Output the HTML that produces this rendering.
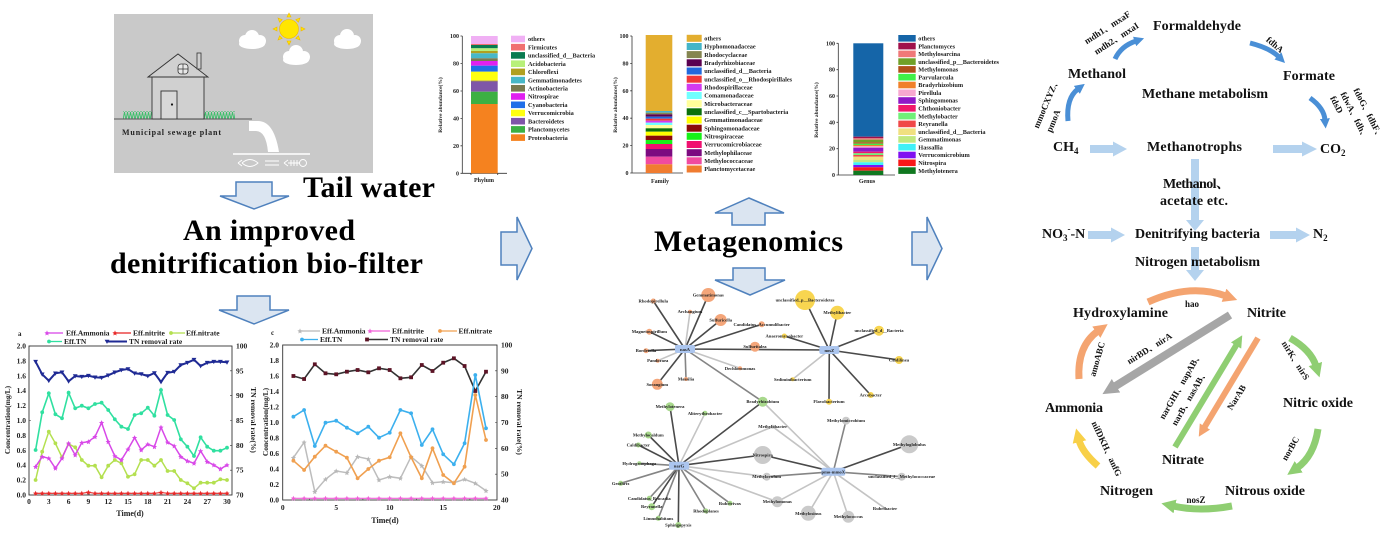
<!DOCTYPE html>
<html><head><meta charset="utf-8"><style>
html,body{margin:0;padding:0;background:#fff;}
svg{display:block;font-family:"Liberation Serif","Noto Serif CJK SC",serif;font-weight:bold;}
</style></head><body>
<svg width="1388" height="551" viewBox="0 0 1388 551" xmlns="http://www.w3.org/2000/svg">
<defs>
<pattern id="grass" width="3" height="8" patternUnits="userSpaceOnUse"><path d="M0,8 L1.5,0 L3,8" stroke="#3cbf6a" fill="none" stroke-width="0.9"/></pattern>
<marker id="mA" viewBox="-3 -3 6 6" markerWidth="6" markerHeight="6" markerUnits="userSpaceOnUse"><path d="M0,-2.6 L0.8,-0.8 L2.6,-0.6 L1.2,0.7 L1.6,2.5 L0,1.5 L-1.6,2.5 L-1.2,0.7 L-2.6,-0.6 L-0.8,-0.8Z" fill="#d848e8"/></marker>
<marker id="mN" viewBox="-3 -3 6 6" markerWidth="6" markerHeight="6" markerUnits="userSpaceOnUse"><path d="M0,-2.6 L0.8,-0.8 L2.6,-0.6 L1.2,0.7 L1.6,2.5 L0,1.5 L-1.6,2.5 L-1.2,0.7 L-2.6,-0.6 L-0.8,-0.8Z" fill="#e82828"/></marker>
<marker id="mR" viewBox="-3 -3 6 6" markerWidth="6" markerHeight="6" markerUnits="userSpaceOnUse"><circle r="1.9" fill="#b4e050"/></marker>
<marker id="mT" viewBox="-3 -3 6 6" markerWidth="6" markerHeight="6" markerUnits="userSpaceOnUse"><circle r="1.9" fill="#30e0a0"/></marker>
<marker id="mV" viewBox="-3 -3 6 6" markerWidth="6" markerHeight="6" markerUnits="userSpaceOnUse"><path d="M-2.4,-1.8 L2.4,-1.8 L0,2.4Z" fill="#1f2a94"/></marker>
<marker id="cA" viewBox="-3 -3 6 6" markerWidth="6" markerHeight="6" markerUnits="userSpaceOnUse"><path d="M0,-2.6 L0.8,-0.8 L2.6,-0.6 L1.2,0.7 L1.6,2.5 L0,1.5 L-1.6,2.5 L-1.2,0.7 L-2.6,-0.6 L-0.8,-0.8Z" fill="#b8b8b8"/></marker>
<marker id="cN" viewBox="-3 -3 6 6" markerWidth="6" markerHeight="6" markerUnits="userSpaceOnUse"><path d="M0,-2.6 L0.8,-0.8 L2.6,-0.6 L1.2,0.7 L1.6,2.5 L0,1.5 L-1.6,2.5 L-1.2,0.7 L-2.6,-0.6 L-0.8,-0.8Z" fill="#f060d8"/></marker>
<marker id="cR" viewBox="-3 -3 6 6" markerWidth="6" markerHeight="6" markerUnits="userSpaceOnUse"><circle r="1.9" fill="#f0a050"/></marker>
<marker id="cT" viewBox="-3 -3 6 6" markerWidth="6" markerHeight="6" markerUnits="userSpaceOnUse"><circle r="1.9" fill="#3cb0ee"/></marker>
<marker id="cV" viewBox="-3 -3 6 6" markerWidth="6" markerHeight="6" markerUnits="userSpaceOnUse"><rect x="-1.9" y="-1.9" width="3.8" height="3.8" fill="#5c1426"/></marker>
<marker id="ahB" viewBox="0 0 2 2" refX="0.3" refY="1" markerWidth="2" markerHeight="2" orient="auto" markerUnits="strokeWidth"><path d="M0,0 L2,1 L0,2Z" fill="#4a8fd6"/></marker>
<marker id="ahO" viewBox="0 0 2 2" refX="0.3" refY="1" markerWidth="2" markerHeight="2" orient="auto" markerUnits="strokeWidth"><path d="M0,0 L2,1 L0,2Z" fill="#f4a470"/></marker>
<marker id="ahG" viewBox="0 0 2 2" refX="0.3" refY="1" markerWidth="2" markerHeight="2" orient="auto" markerUnits="strokeWidth"><path d="M0,0 L2,1 L0,2Z" fill="#8fce72"/></marker>
<marker id="ahY" viewBox="0 0 2 2" refX="0.3" refY="1" markerWidth="2" markerHeight="2" orient="auto" markerUnits="strokeWidth"><path d="M0,0 L2,1 L0,2Z" fill="#f8d048"/></marker>
<marker id="ahS" viewBox="0 0 2 2" refX="0.3" refY="1" markerWidth="2" markerHeight="2" orient="auto" markerUnits="strokeWidth"><path d="M0,0 L2,1 L0,2Z" fill="#a6a6a6"/></marker>
</defs>

<!-- ===== House scene ===== -->
<rect x="114" y="14" width="259" height="159" fill="#c9c9c9"/>
<g fill="#ffe600" stroke="#f0b800" stroke-width="0.6">
<circle cx="289" cy="29" r="9.5"/>
<path d="M289,13 l2,4 h-4z M289,45 l2,-4 h-4z M273,29 l4,2 v-4z M305,29 l-4,2 v-4z M278,18 l4.2,1.6 -2.6,2.6z M300,40 l-4.2,-1.6 2.6,-2.6z M300,18 l-1.6,4.2 -2.6,-2.6z M278,40 l1.6,-4.2 2.6,2.6z"/>
</g>
<g fill="#fff">
<circle cx="245" cy="41" r="6"/><circle cx="252" cy="37" r="7"/><circle cx="260" cy="41" r="6"/><ellipse cx="252" cy="44" rx="13" ry="5"/>
<circle cx="289" cy="57" r="6"/><circle cx="296" cy="52" r="7"/><circle cx="304" cy="57" r="6"/><ellipse cx="296" cy="60" rx="13" ry="5"/>
<circle cx="340" cy="41" r="6"/><circle cx="347" cy="36" r="7"/><circle cx="355" cy="41" r="6"/><ellipse cx="347" cy="44" rx="13" ry="5"/>
</g>
<rect x="123" y="111" width="29" height="8" fill="url(#grass)"/>
<rect x="204" y="111" width="31" height="8" fill="url(#grass)"/>
<line x1="114" y1="119" x2="252" y2="119" stroke="#555" stroke-width="1"/>
<rect x="152" y="77" width="52" height="42" fill="#d0d0d0" stroke="#333" stroke-width="0.9"/>
<path d="M148,77 L178,54 L208,77 Z" fill="#d0d0d0" stroke="#333" stroke-width="0.9"/>
<rect x="197" y="53" width="4" height="16" fill="#d0d0d0" stroke="#333" stroke-width="0.8"/>
<rect x="178" y="64" width="10" height="10" rx="3" fill="#e8e8e8" stroke="#333" stroke-width="0.8"/>
<path d="M183,64 V74 M178,69 H188" stroke="#333" stroke-width="0.7"/>
<rect x="161" y="91" width="16" height="28" fill="#d8d8d8" stroke="#333" stroke-width="0.9"/>
<circle cx="172" cy="104.5" r="1.1" fill="#111"/>
<text x="122" y="135" font-size="8" fill="#222" textLength="99">Municipal sewage plant</text>
<path d="M250,121 H258 Q274,121 279,152 H268 Q266,131 256,131 H250 Z" fill="#fff"/>
<path d="M250,121 V131" stroke="#fff" stroke-width="2"/>
<line x1="233" y1="154" x2="310" y2="154" stroke="#fff" stroke-width="1.5"/>
<g stroke="#fff" stroke-width="0.9" fill="none">
<path d="M238,163 L242,160 M238,163 L242,166 M242,163 Q250,156 258,163 Q250,170 242,163"/>
<path d="M265,161 H279 M265,165 H279"/>
<path d="M284,163 L288,160 M284,163 L288,166 M288,163 H300 M291,160 V166 M294,160 V166 M297,160 V166"/>
<circle cx="303" cy="163" r="3.5"/>
</g>

<!-- ===== Big texts & block arrows ===== -->
<text x="303" y="197" font-size="30" fill="#000" textLength="132">Tail water</text>
<text x="183" y="240" font-size="30" fill="#000" textLength="172">An improved</text>
<text x="110" y="273" font-size="30" fill="#000" textLength="313">denitrification bio-filter</text>
<text x="654" y="251" font-size="30" fill="#000" textLength="189">Metagenomics</text>
<g fill="#dbe5f1" stroke="#4f81bd" stroke-width="1.5" stroke-linejoin="miter">
<polygon points="236,182 272,182 272,196 289,196 254,209 220,196 236,196"/>
<polygon points="237,296 270,296 270,310 289,310 254,324 219,310 237,310"/>
<polygon points="501,232 517,232 517,217 532,248.5 517,280 517,265 501,265"/>
<polygon points="912,232 927,232 927,217 942,248.5 927,280 927,265 912,265"/>
<polygon points="749,198 784,213 765,213 765,225 732,225 732,213 715,213"/>
<polygon points="733,268 765,268 765,280 785,280 750,295 715,280 733,280"/>
</g>

<!-- ===== Chart a ===== -->
<g font-size="7.5" fill="#222">
<rect x="29" y="346" width="203" height="149" fill="none" stroke="#333" stroke-width="0.9"/>
<g text-anchor="end">
<text x="26" y="497.5">0.0</text><text x="26" y="482.6">0.2</text><text x="26" y="467.7">0.4</text><text x="26" y="452.8">0.6</text><text x="26" y="437.9">0.8</text><text x="26" y="423">1.0</text><text x="26" y="408.1">1.2</text><text x="26" y="393.2">1.4</text><text x="26" y="378.3">1.6</text><text x="26" y="363.4">1.8</text><text x="26" y="348.5">2.0</text>
</g>
<g>
<text x="236" y="497.5">70</text><text x="236" y="472.7">75</text><text x="236" y="447.8">80</text><text x="236" y="423">85</text><text x="236" y="398.2">90</text><text x="236" y="373.3">95</text><text x="236" y="348.5">100</text>
</g>
<g text-anchor="middle">
<text x="29" y="504">0</text><text x="48.8" y="504">3</text><text x="68.6" y="504">6</text><text x="88.4" y="504">9</text><text x="108.2" y="504">12</text><text x="128" y="504">15</text><text x="147.8" y="504">18</text><text x="167.6" y="504">21</text><text x="187.4" y="504">24</text><text x="207.2" y="504">27</text><text x="227" y="504">30</text>
<text x="130" y="516" font-size="8">Time(d)</text>
<text transform="translate(10,420) rotate(-90)" font-size="7.5">Concentration(mg/L)</text>
<text transform="translate(251,420) rotate(90)" font-size="7.5">TN removal rate(%)</text>
</g>
<path d="M29,495 V493 M48.8,495 V493 M68.6,495 V493 M88.4,495 V493 M108.2,495 V493 M128,495 V493 M147.8,495 V493 M167.6,495 V493 M187.4,495 V493 M207.2,495 V493 M29,420.5 H31 M29,346 H31 M232,370.8 H230 M232,395.7 H230 M232,420.5 H230 M232,445.3 H230 M232,470.2 H230" stroke="#333" stroke-width="0.6"/>
<text x="18" y="336" font-size="7">a</text>
<line x1="47" y1="333" x2="63" y2="333" stroke="#d848e8" stroke-width="1.3" marker-start="url(#mA)"/>
<text x="66" y="335.5">Eff.Ammonia</text>
<line x1="115" y1="333" x2="131" y2="333" stroke="#e82828" stroke-width="1.3" marker-start="url(#mN)"/>
<text x="133" y="335.5">Eff.nitrite</text>
<line x1="171" y1="333" x2="185" y2="333" stroke="#b4e050" stroke-width="1.3" marker-start="url(#mR)"/>
<text x="186" y="335.5">Eff.nitrate</text>
<line x1="49" y1="341.5" x2="62" y2="341.5" stroke="#30e0a0" stroke-width="1.3" marker-start="url(#mT)"/>
<text x="64" y="344">Eff.TN</text>
<line x1="107" y1="341.5" x2="127" y2="341.5" stroke="#1f2a94" stroke-width="2" marker-start="url(#mV)"/>
<text x="129" y="344">TN removal rate</text>
</g>
<polyline fill="none" stroke="#e82828" stroke-width="1.1" marker-start="url(#mN)" marker-mid="url(#mN)" marker-end="url(#mN)" points="35.6,493.3 42.2,493.3 48.8,493.3 55.4,493.3 62,493.3 68.6,493.3 75.2,493.3 81.8,493.3 88.4,492.3 95,493.3 101.6,493.3 108.2,493.3 114.8,493.3 121.4,493.3 128,493.3 134.6,493.3 141.2,493.3 147.8,493.3 154.4,493.3 161,492.5 167.6,493.3 174.2,493.3 180.8,493.3 187.4,493.3 194,493.3 200.6,493.3 207.2,493.3 213.8,493.3 220.4,493.3 227,493.3"/>
<polyline fill="none" stroke="#b4e050" stroke-width="1.5" marker-start="url(#mR)" marker-mid="url(#mR)" marker-end="url(#mR)" points="35.6,480 42.2,451.7 48.8,431.7 55.4,443.3 62,457.3 68.6,444 75.2,447.3 81.8,460 88.4,465.7 95,465.7 101.6,477.3 108.2,465.7 114.8,460 121.4,463.3 128,476.7 134.6,474.3 141.2,460 147.8,460 154.4,465.7 161,460 167.6,471 174.2,471 180.8,480 187.4,483.3 194,488.3 200.6,482.7 207.2,482.7 213.8,482.7 220.4,479.3 227,480"/>
<polyline fill="none" stroke="#d848e8" stroke-width="1.5" marker-start="url(#mA)" marker-mid="url(#mA)" marker-end="url(#mA)" points="35.6,466.7 42.2,456.7 48.8,458.3 55.4,468.3 62,458.3 68.6,443.3 75.2,455 81.8,442.7 88.4,441.7 95,436.7 101.6,422.7 108.2,441.7 114.8,456 121.4,460 128,449.3 134.6,437.7 141.2,450 147.8,444.3 154.4,446.7 161,427.3 167.6,442.3 174.2,446 180.8,456.7 187.4,461 194,463.3 200.6,451 207.2,461.7 213.8,465 220.4,469 227,465"/>
<polyline fill="none" stroke="#30e0a0" stroke-width="1.6" marker-start="url(#mT)" marker-mid="url(#mT)" marker-end="url(#mT)" points="35.6,450 42.2,412.3 48.8,393.3 55.4,414.3 62,418.3 68.6,392.7 75.2,408.3 81.8,405.7 88.4,408.3 95,404 101.6,402.7 108.2,410 114.8,419.3 121.4,426.7 128,429 134.6,415 141.2,413.3 147.8,407.7 154.4,415.7 161,390 167.6,415 174.2,420 180.8,439.3 187.4,446.7 194,456 200.6,437.3 207.2,446.7 213.8,450.7 220.4,450.7 227,447.7"/>
<polyline fill="none" stroke="#1f2a94" stroke-width="2" marker-start="url(#mV)" marker-mid="url(#mV)" marker-end="url(#mV)" points="35.6,361.7 42.2,374.3 48.8,380.7 55.4,373.3 62,372.3 68.6,381.3 75.2,376 81.8,376.7 88.4,375.7 95,377.3 101.6,377.7 108.2,375.3 114.8,372.3 121.4,370 128,369 134.6,373.3 141.2,374 147.8,376 154.4,373 161,382 167.6,372.7 174.2,371.7 180.8,365 187.4,362.7 194,359.7 200.6,366 207.2,362.7 213.8,361.7 220.4,361.7 227,362.3"/>

<!-- ===== Chart c ===== -->
<g font-size="7.5" fill="#222">
<rect x="282.7" y="345" width="214.3" height="155" fill="none" stroke="#333" stroke-width="0.9"/>
<g text-anchor="end">
<text x="279" y="502.5">0.0</text><text x="279" y="487">0.2</text><text x="279" y="471.5">0.4</text><text x="279" y="456">0.6</text><text x="279" y="440.5">0.8</text><text x="279" y="425">1.0</text><text x="279" y="409.5">1.2</text><text x="279" y="394">1.4</text><text x="279" y="378.5">1.6</text><text x="279" y="363">1.8</text><text x="279" y="347.5">2.0</text>
</g>
<g>
<text x="501" y="502.5">40</text><text x="501" y="476.7">50</text><text x="501" y="450.8">60</text><text x="501" y="425">70</text><text x="501" y="399.2">80</text><text x="501" y="373.3">90</text><text x="501" y="347.5">100</text>
</g>
<g text-anchor="middle">
<text x="282.7" y="510">0</text><text x="336.2" y="510">5</text><text x="389.7" y="510">10</text><text x="443.2" y="510">15</text><text x="496.7" y="510">20</text>
<text x="385" y="523" font-size="8">Time(d)</text>
<text transform="translate(268,422) rotate(-90)" font-size="7.5">Concentration(mg/L)</text>
<text transform="translate(517,422) rotate(90)" font-size="7.5">TN removal rate(%)</text>
</g>
<path d="M309.5,500 V498 M336.2,500 V498 M362.9,500 V498 M389.7,500 V498 M416.5,500 V498 M443.2,500 V498 M469.9,500 V498 M497,474.2 H495 M497,448.3 H495 M497,422.5 H495 M497,396.7 H495 M497,370.8 H495" stroke="#333" stroke-width="0.6"/>
<text x="271" y="335" font-size="7">c</text>
<line x1="300" y1="331" x2="320" y2="331" stroke="#b8b8b8" stroke-width="1.3" marker-start="url(#cA)"/>
<text x="322" y="333.5">Eff.Ammonia</text>
<line x1="370" y1="331" x2="390" y2="331" stroke="#f060d8" stroke-width="1.3" marker-start="url(#cN)"/>
<text x="392" y="333.5">Eff.nitrite</text>
<line x1="440" y1="331" x2="457" y2="331" stroke="#f0a050" stroke-width="1.3" marker-start="url(#cR)"/>
<text x="458.5" y="333.5">Eff.nitrate</text>
<line x1="302" y1="339.5" x2="318" y2="339.5" stroke="#3cb0ee" stroke-width="1.3" marker-start="url(#cT)"/>
<text x="320" y="342">Eff.TN</text>
<line x1="367" y1="339.5" x2="388" y2="339.5" stroke="#333" stroke-width="1.5" marker-start="url(#cV)"/>
<text x="390" y="342">TN removal rate</text>
</g>
<polyline fill="none" stroke="#bdbdbd" stroke-width="1.5" marker-start="url(#cA)" marker-mid="url(#cA)" marker-end="url(#cA)" points="293.4,457.7 304.1,442.3 314.8,491.7 325.5,479.3 336.2,471 346.9,472.7 357.6,456.7 368.3,459 379,480 389.7,476.7 400.4,478.3 411.1,456.7 421.8,465.7 432.5,482.7 443.2,481.7 453.9,482.7 464.6,479.3 475.3,483.3 486,490.7"/>
<polyline fill="none" stroke="#f060d8" stroke-width="1.1" marker-start="url(#cN)" marker-mid="url(#cN)" marker-end="url(#cN)" points="293.4,498.3 304.1,498.3 314.8,498.3 325.5,498.3 336.2,498.3 346.9,498.3 357.6,498.3 368.3,498.3 379,498.3 389.7,498.3 400.4,498.3 411.1,498.3 421.8,498.3 432.5,498.3 443.2,498.3 453.9,498.3 464.6,498.3 475.3,498.3 486,498.3"/>
<polyline fill="none" stroke="#f0a050" stroke-width="1.6" marker-start="url(#cR)" marker-mid="url(#cR)" marker-end="url(#cR)" points="293.4,460.7 304.1,470 314.8,456.7 325.5,445.7 336.2,451.7 346.9,457.7 357.6,478.3 368.3,469 379,460.7 389.7,457.3 400.4,433.3 411.1,457.3 421.8,478.3 432.5,448.3 443.2,475 453.9,483.3 464.6,466.7 475.3,395 486,440"/>
<polyline fill="none" stroke="#333" stroke-width="1.6" marker-start="url(#cV)" marker-mid="url(#cV)" marker-end="url(#cV)" points="293.4,376 304.1,379 314.8,364.3 325.5,373.3 336.2,374.3 346.9,371.7 357.6,370 368.3,372.3 379,368.3 389.7,370 400.4,378.3 411.1,377.3 421.8,365 432.5,371 443.2,362.7 453.9,358.3 464.6,366 475.3,391 486,371.7"/>
<polyline fill="none" stroke="#3cb0ee" stroke-width="1.6" marker-start="url(#cT)" marker-mid="url(#cT)" marker-end="url(#cT)" points="293.4,416.7 304.1,410 314.8,446 325.5,422.7 336.2,420.7 346.9,427.7 357.6,433.3 368.3,426.7 379,437.7 389.7,432.7 400.4,410 411.1,413.3 421.8,445 432.5,429.3 443.2,454.3 453.9,464.3 464.6,443.3 475.3,375 486,428.3"/>

<!-- ===== Bar charts ===== -->
<g font-size="6" fill="#222">
<!-- Phylum -->
<path d="M462.3,36 V173.3 H507 M462.3,36 H460.5 M462.3,63.5 H460.5 M462.3,91 H460.5 M462.3,118.4 H460.5 M462.3,145.8 H460.5 M462.3,173.3 H460.5 M471,173.3 V175 M497.7,173.3 V175" stroke="#333" stroke-width="0.8" fill="none"/>
<g text-anchor="end"><text x="459" y="38">100</text><text x="459" y="65.5">80</text><text x="459" y="93">60</text><text x="459" y="120.4">40</text><text x="459" y="147.8">20</text><text x="459" y="175.3">0</text></g>
<text transform="translate(442,105) rotate(-90)" text-anchor="middle" font-size="5.5">Relative abundance(%)</text>
<text x="484" y="182" text-anchor="middle">Phylum</text>
<rect x="471" y="36" width="26.7" height="8" fill="#f0b0f4"/>
<rect x="471" y="44" width="26.7" height="1" fill="#f07070"/>
<rect x="471" y="45" width="26.7" height="3.3" fill="#0a7a50"/>
<rect x="471" y="48.3" width="26.7" height="2.7" fill="#b8f07a"/>
<rect x="471" y="51" width="26.7" height="2.3" fill="#b0a020"/>
<rect x="471" y="53.3" width="26.7" height="5" fill="#48b8c8"/>
<rect x="471" y="58.3" width="26.7" height="2.7" fill="#7a7a50"/>
<rect x="471" y="61" width="26.7" height="4.7" fill="#e020f0"/>
<rect x="471" y="65.7" width="26.7" height="6" fill="#1f6ee8"/>
<rect x="471" y="71.7" width="26.7" height="9" fill="#ffff10"/>
<rect x="471" y="80.7" width="26.7" height="1" fill="#806050"/>
<rect x="471" y="81.7" width="26.7" height="10" fill="#7f56a8"/>
<rect x="471" y="91.7" width="26.7" height="12.3" fill="#3cb043"/>
<rect x="471" y="104" width="26.7" height="69.3" fill="#f5821f"/>
<g font-size="6.3">
<rect x="511" y="35.7" width="14" height="6.6" fill="#f0b0f4"/><text x="528" y="41.2">others</text>
<rect x="511" y="43.9" width="14" height="6.6" fill="#f07070"/><text x="528" y="49.4">Firmicutes</text>
<rect x="511" y="52.1" width="14" height="6.6" fill="#0a7a50"/><text x="528" y="57.6">unclassified_d__Bacteria</text>
<rect x="511" y="60.4" width="14" height="6.6" fill="#b8f07a"/><text x="528" y="65.9">Acidobacteria</text>
<rect x="511" y="68.6" width="14" height="6.6" fill="#b0a020"/><text x="528" y="74.1">Chloroflexi</text>
<rect x="511" y="76.8" width="14" height="6.6" fill="#48b8c8"/><text x="528" y="82.3">Gemmatimonadetes</text>
<rect x="511" y="85" width="14" height="6.6" fill="#7a7a50"/><text x="528" y="90.5">Actinobacteria</text>
<rect x="511" y="93.2" width="14" height="6.6" fill="#e020f0"/><text x="528" y="98.7">Nitrospirae</text>
<rect x="511" y="101.5" width="14" height="6.6" fill="#1f6ee8"/><text x="528" y="107">Cyanobacteria</text>
<rect x="511" y="109.7" width="14" height="6.6" fill="#ffff10"/><text x="528" y="115.2">Verrucomicrobia</text>
<rect x="511" y="117.9" width="14" height="6.6" fill="#7f56a8"/><text x="528" y="123.4">Bacteroidetes</text>
<rect x="511" y="126.1" width="14" height="6.6" fill="#3cb043"/><text x="528" y="131.6">Planctomycetes</text>
<rect x="511" y="134.3" width="14" height="6.6" fill="#f5821f"/><text x="528" y="139.8">Proteobacteria</text>
</g>
<!-- Family -->
<path d="M632,36 V173 H683 M632,36 H630.2 M632,63.4 H630.2 M632,90.8 H630.2 M632,118.2 H630.2 M632,145.6 H630.2 M632,173 H630.2" stroke="#333" stroke-width="0.8" fill="none"/>
<g text-anchor="end"><text x="628.5" y="38">100</text><text x="628.5" y="65.4">80</text><text x="628.5" y="92.8">60</text><text x="628.5" y="120.2">40</text><text x="628.5" y="147.6">20</text><text x="628.5" y="175">0</text></g>
<text transform="translate(617,105) rotate(-90)" text-anchor="middle" font-size="5.5">Relative abundance(%)</text>
<text x="660" y="183" text-anchor="middle">Family</text>
<rect x="645.7" y="35" width="26.6" height="76" fill="#e3ae2f"/>
<rect x="645.7" y="111" width="26.6" height="1.7" fill="#45b5c8"/>
<rect x="645.7" y="112.7" width="26.6" height="1.6" fill="#858550"/>
<rect x="645.7" y="114.3" width="26.6" height="2.4" fill="#5a0050"/>
<rect x="645.7" y="116.7" width="26.6" height="2" fill="#2168dc"/>
<rect x="645.7" y="118.7" width="26.6" height="2" fill="#f03838"/>
<rect x="645.7" y="120.7" width="26.6" height="2" fill="#d33af0"/>
<rect x="645.7" y="122.7" width="26.6" height="2.3" fill="#70ffff"/>
<rect x="645.7" y="125" width="26.6" height="3.3" fill="#ffff9a"/>
<rect x="645.7" y="128.3" width="26.6" height="3.4" fill="#0a700a"/>
<rect x="645.7" y="131.7" width="26.6" height="4" fill="#ffff00"/>
<rect x="645.7" y="135.7" width="26.6" height="4.3" fill="#8a0a0a"/>
<rect x="645.7" y="140" width="26.6" height="4" fill="#18f018"/>
<rect x="645.7" y="144" width="26.6" height="5" fill="#f01070"/>
<rect x="645.7" y="149" width="26.6" height="7.7" fill="#7c0a80"/>
<rect x="645.7" y="156.7" width="26.6" height="7.6" fill="#f04aa0"/>
<rect x="645.7" y="164.3" width="26.6" height="8.7" fill="#f07c30"/>
<g font-size="6.3">
<rect x="686.7" y="34.8" width="15" height="7" fill="#e3ae2f"/><text x="704.3" y="40.5">others</text>
<rect x="686.7" y="43" width="15" height="7" fill="#45b5c8"/><text x="704.3" y="48.7">Hyphomonadaceae</text>
<rect x="686.7" y="51.1" width="15" height="7" fill="#858550"/><text x="704.3" y="56.8">Rhodocyclaceae</text>
<rect x="686.7" y="59.3" width="15" height="7" fill="#5a0050"/><text x="704.3" y="65">Bradyrhizobiaceae</text>
<rect x="686.7" y="67.5" width="15" height="7" fill="#2168dc"/><text x="704.3" y="73.2">unclassified_d__Bacteria</text>
<rect x="686.7" y="75.7" width="15" height="7" fill="#f03838"/><text x="704.3" y="81.4">unclassified_o__Rhodospirillales</text>
<rect x="686.7" y="83.8" width="15" height="7" fill="#d33af0"/><text x="704.3" y="89.5">Rhodospirillaceae</text>
<rect x="686.7" y="92" width="15" height="7" fill="#70ffff"/><text x="704.3" y="97.7">Comamonadaceae</text>
<rect x="686.7" y="100.2" width="15" height="7" fill="#ffff9a"/><text x="704.3" y="105.9">Microbacteraceae</text>
<rect x="686.7" y="108.3" width="15" height="7" fill="#0a700a"/><text x="704.3" y="114">unclassified_c__Spartobacteria</text>
<rect x="686.7" y="116.5" width="15" height="7" fill="#ffff00"/><text x="704.3" y="122.2">Gemmatimonadaceae</text>
<rect x="686.7" y="124.7" width="15" height="7" fill="#8a0a0a"/><text x="704.3" y="130.4">Sphingomonadaceae</text>
<rect x="686.7" y="132.8" width="15" height="7" fill="#18f018"/><text x="704.3" y="138.5">Nitrospiraceae</text>
<rect x="686.7" y="141" width="15" height="7" fill="#f01070"/><text x="704.3" y="146.7">Verrucomicrobiaceae</text>
<rect x="686.7" y="149.2" width="15" height="7" fill="#7c0a80"/><text x="704.3" y="154.9">Methylophilaceae</text>
<rect x="686.7" y="157.3" width="15" height="7" fill="#f04aa0"/><text x="704.3" y="163">Methylococcaceae</text>
<rect x="686.7" y="165.5" width="15" height="7" fill="#f07c30"/><text x="704.3" y="171.2">Planctomycetaceae</text>
</g>
<!-- Genus -->
<path d="M838.3,43.3 V175 H895 M838.3,43.3 H836.5 M838.3,69.7 H836.5 M838.3,96 H836.5 M838.3,122.3 H836.5 M838.3,148.7 H836.5 M838.3,175 H836.5" stroke="#333" stroke-width="0.8" fill="none"/>
<g text-anchor="end"><text x="835" y="45.3">100</text><text x="835" y="71.7">80</text><text x="835" y="98">60</text><text x="835" y="124.3">40</text><text x="835" y="150.7">20</text><text x="835" y="177">0</text></g>
<text transform="translate(818,110) rotate(-90)" text-anchor="middle" font-size="5.5">Relative abundance(%)</text>
<text x="867" y="183" text-anchor="middle">Genus</text>
<rect x="853.3" y="43.3" width="30" height="93.4" fill="#1565a8"/>
<rect x="853.3" y="136.7" width="30" height="1.6" fill="#a0104a"/>
<rect x="853.3" y="138.3" width="30" height="1.4" fill="#f07878"/>
<rect x="853.3" y="139.7" width="30" height="2.6" fill="#70a028"/>
<rect x="853.3" y="142.3" width="30" height="1.4" fill="#b0501a"/>
<rect x="853.3" y="143.7" width="30" height="1.3" fill="#40f048"/>
<rect x="853.3" y="145" width="30" height="1.3" fill="#f0802a"/>
<rect x="853.3" y="146.3" width="30" height="1.4" fill="#f8a8d0"/>
<rect x="853.3" y="147.7" width="30" height="4" fill="#9018c8"/>
<rect x="853.3" y="151.7" width="30" height="1.6" fill="#f0186a"/>
<rect x="853.3" y="153.3" width="30" height="1.7" fill="#70f078"/>
<rect x="853.3" y="155" width="30" height="1.7" fill="#f04848"/>
<rect x="853.3" y="156.7" width="30" height="3.3" fill="#f0e080"/>
<rect x="853.3" y="160" width="30" height="2.3" fill="#c0e880"/>
<rect x="853.3" y="162.3" width="30" height="2.7" fill="#40f0f8"/>
<rect x="853.3" y="165" width="30" height="2.3" fill="#8010f0"/>
<rect x="853.3" y="167.3" width="30" height="3.4" fill="#f81818"/>
<rect x="853.3" y="170.7" width="30" height="4.3" fill="#107820"/>
<g font-size="6.3">
<rect x="898.3" y="35" width="17.4" height="6.6" fill="#1565a8"/><text x="918.3" y="40.5">others</text>
<rect x="898.3" y="42.8" width="17.4" height="6.6" fill="#a0104a"/><text x="918.3" y="48.3">Planctomyces</text>
<rect x="898.3" y="50.6" width="17.4" height="6.6" fill="#f07878"/><text x="918.3" y="56.1">Methylosarcina</text>
<rect x="898.3" y="58.3" width="17.4" height="6.6" fill="#70a028"/><text x="918.3" y="63.8">unclassified_p__Bacteroidetes</text>
<rect x="898.3" y="66.1" width="17.4" height="6.6" fill="#b0501a"/><text x="918.3" y="71.6">Methylomonas</text>
<rect x="898.3" y="73.9" width="17.4" height="6.6" fill="#40f048"/><text x="918.3" y="79.4">Parvularcula</text>
<rect x="898.3" y="81.7" width="17.4" height="6.6" fill="#f0802a"/><text x="918.3" y="87.2">Bradyrhizobium</text>
<rect x="898.3" y="89.5" width="17.4" height="6.6" fill="#f8a8d0"/><text x="918.3" y="95">Pirellula</text>
<rect x="898.3" y="97.2" width="17.4" height="6.6" fill="#9018c8"/><text x="918.3" y="102.7">Sphingomonas</text>
<rect x="898.3" y="105" width="17.4" height="6.6" fill="#f0186a"/><text x="918.3" y="110.5">Chthoniobacter</text>
<rect x="898.3" y="112.8" width="17.4" height="6.6" fill="#70f078"/><text x="918.3" y="118.3">Methylobacter</text>
<rect x="898.3" y="120.6" width="17.4" height="6.6" fill="#f04848"/><text x="918.3" y="126.1">Reyranella</text>
<rect x="898.3" y="128.4" width="17.4" height="6.6" fill="#f0e080"/><text x="918.3" y="133.9">unclassified_d__Bacteria</text>
<rect x="898.3" y="136.1" width="17.4" height="6.6" fill="#c0e880"/><text x="918.3" y="141.6">Gemmatimonas</text>
<rect x="898.3" y="143.9" width="17.4" height="6.6" fill="#40f0f8"/><text x="918.3" y="149.4">Hassallia</text>
<rect x="898.3" y="151.7" width="17.4" height="6.6" fill="#8010f0"/><text x="918.3" y="157.2">Verrucomicrobium</text>
<rect x="898.3" y="159.5" width="17.4" height="6.6" fill="#f81818"/><text x="918.3" y="165">Nitrospira</text>
<rect x="898.3" y="167.3" width="17.4" height="6.6" fill="#107820"/><text x="918.3" y="172.8">Methylotenera</text>
</g>
</g>

<!-- ===== Network ===== -->
<g stroke-width="1.6" fill="none">
<g stroke="#4a4a4a">
<path d="M685,349 L708.3,295 M685,349 L653.3,301 M685,349 L720.7,320 M685,349 L761.7,324.3 M685,349 L649.3,331.7 M685,349 L646,350.7 M685,349 L657.3,384.3 M685,349 L829.3,350"/>
<path d="M829.3,350 L805,300 M829.3,350 L837.3,312.7 M829.3,350 L784.3,336 M829.3,350 L879,330.7 M829.3,350 L899,360 M829.3,350 L870.7,395 M829.3,350 L829,401.7"/>
<path d="M679,465.7 L670,406.7 M679,465.7 L648.3,435 M679,465.7 L638.3,445 M679,465.7 L651.7,506.7 M679,465.7 L678.3,525 M679,465.7 L762.7,401.7 M679,465.7 L762.7,455"/>
<path d="M833.3,471.7 L909.3,444.3 M833.3,471.7 L762.7,455"/>
</g>
<g stroke="#858585">
<path d="M685,349 L762.7,401.7 M679,465.7 L639.3,463.3 M679,465.7 L620.7,483.3 M679,465.7 L649.3,498.3 M679,465.7 L658.3,518.3 M679,465.7 L706,511 M679,465.7 L730,503.3 M833.3,471.7 L846,420.7 M833.3,471.7 L766.7,476.7 M833.3,471.7 L901.7,476.7 M685,349 L686,379"/>
</g>
<g stroke="#c4c4c4">
<path d="M685,349 L690,311.7 M685,349 L657.7,360.7 M685,349 L740,368.3 M829.3,350 L792.7,379.3 M679,465.7 L705,413.3 M679,465.7 L772.7,426.7 M679,465.7 L766.7,476.7 M679,465.7 L777.3,501.7 M833.3,471.7 L772.7,426.7 M833.3,471.7 L762.7,401.7 M833.3,471.7 L777.3,501.7 M833.3,471.7 L808.3,513.3 M833.3,471.7 L848.3,516.7 M833.3,471.7 L885,508.3"/>
</g>
</g>
<g fill="#f4a67a">
<circle cx="708.3" cy="295" r="7"/><circle cx="653.3" cy="301" r="2.5"/><circle cx="690" cy="311.7" r="2"/><circle cx="720.7" cy="320" r="6"/><circle cx="761.7" cy="324.3" r="3"/><circle cx="649.3" cy="331.7" r="3"/><circle cx="755" cy="346.7" r="5"/><circle cx="646" cy="350.7" r="2.5"/><circle cx="657.7" cy="360.7" r="2"/><circle cx="740" cy="368.3" r="2"/><circle cx="686" cy="379" r="2"/><circle cx="657.3" cy="384.3" r="5.5"/>
</g>
<g fill="#f8d550">
<circle cx="805" cy="300" r="10"/><circle cx="837.3" cy="312.7" r="7"/><circle cx="784.3" cy="336" r="2.5"/><circle cx="879" cy="330.7" r="5"/><circle cx="899" cy="360" r="4"/><circle cx="792.7" cy="379.3" r="2"/><circle cx="870.7" cy="395" r="3"/><circle cx="829" cy="401.7" r="3"/>
</g>
<g fill="#a8d88c">
<circle cx="762.7" cy="401.7" r="5"/><circle cx="670" cy="406.7" r="4.5"/><circle cx="705" cy="413.3" r="2.5"/><circle cx="648.3" cy="435" r="3.5"/><circle cx="638.3" cy="445" r="2.5"/><circle cx="639.3" cy="463.3" r="2"/><circle cx="620.7" cy="483.3" r="2.5"/><circle cx="649.3" cy="498.3" r="2.5"/><circle cx="651.7" cy="506.7" r="3.5"/><circle cx="658.3" cy="518.3" r="2.5"/><circle cx="678.3" cy="525" r="3"/><circle cx="706" cy="511" r="2.5"/><circle cx="730" cy="503.3" r="2.5"/>
</g>
<g fill="#cacaca">
<circle cx="846" cy="420.7" r="4"/><circle cx="909.3" cy="444.3" r="9"/><circle cx="772.7" cy="426.7" r="2"/><circle cx="762.7" cy="455" r="9"/><circle cx="766.7" cy="476.7" r="4"/><circle cx="901.7" cy="476.7" r="4"/><circle cx="777.3" cy="501.7" r="5.5"/><circle cx="808.3" cy="513.3" r="7.5"/><circle cx="848.3" cy="516.7" r="6"/>
</g>
<g fill="#abc5ee">
<rect x="675" y="345" width="20" height="8" rx="2"/><rect x="819.3" y="346" width="20" height="8" rx="2"/><rect x="669" y="461.7" width="20" height="8" rx="2"/><rect x="821.3" y="467.7" width="24" height="8" rx="2"/>
</g>
<g font-size="4.6" fill="#222" text-anchor="middle">
<text x="685" y="350.8">nasA</text><text x="829.3" y="351.8">nosZ</text><text x="679" y="467.5">narG</text><text x="833.3" y="473.5">pmo-mmoX</text>
<text x="708.3" y="296.5">Gemmatimonas</text><text x="653.3" y="302.5">Rhodopirellula</text><text x="690" y="313">Archangium</text><text x="720.7" y="321.5">Sulfuricella</text><text x="761.7" y="325.8">Candidatus_Accumulibacter</text><text x="649.3" y="333.2">Magnetospirillum</text><text x="755" y="348.2">Sulfuritalea</text><text x="646" y="352.2">Bordetella</text><text x="657.7" y="362.2">Pandoraea</text><text x="740" y="369.8">Dechloromonas</text><text x="686" y="380.5">Massilia</text><text x="657.3" y="385.8">Sorangium</text>
<text x="805" y="301.5">unclassified_p__Bacteroidetes</text><text x="837.3" y="314.2">Methylibacter</text><text x="784.3" y="337.5">Anaeromyxobacter</text><text x="879" y="332.2">unclassified_d__Bacteria</text><text x="899" y="361.5">Caldilinea</text><text x="792.7" y="380.8">Sediminibacterium</text><text x="870.7" y="396.5">Arcobacter</text><text x="829" y="403.2">Flavobacterium</text>
<text x="762.7" y="403.2">Bradyrhizobium</text><text x="670" y="408.2">Methylotenera</text><text x="705" y="414.8">Aliterythrobacter</text><text x="648.3" y="436.5">Methylocaldum</text><text x="638.3" y="446.5">Caldibacter</text><text x="639.3" y="464.8">Hydrogenophaga</text><text x="620.7" y="484.8">Geothrix</text><text x="649.3" y="499.8">Candidatus_Brocadia</text><text x="651.7" y="508.2">Reyranella</text><text x="658.3" y="519.8">Limnohabitans</text><text x="678.3" y="526.5">Sphingopyxis</text><text x="706" y="512.5">Rhodoplanes</text><text x="730" y="504.8">Rubrivivax</text>
<text x="846" y="422.2">Methylomicrobium</text><text x="909.3" y="445.8">Methyloglobulus</text><text x="772.7" y="428.2">Methylobacter</text><text x="762.7" y="456.5">Nitrospira</text><text x="766.7" y="478.2">Methylovulum</text><text x="901.7" y="478.2">unclassified_f__Methylococcaceae</text><text x="777.3" y="503.2">Methylomonas</text><text x="808.3" y="514.8">Methylosinus</text><text x="848.3" y="518.2">Methylococcus</text><text x="885" y="509.8">Rubribacter</text>
</g>

<!-- ===== Methane pathway ===== -->
<g fill="#b4d2ee">
<polygon points="1090,145 1113,145 1113,141.5 1127,149 1113,156.5 1113,153 1090,153"/>
<polygon points="1273,145 1302,145 1302,141.5 1317,149 1302,156.5 1302,153 1273,153"/>
<polygon points="1088,231 1111,231 1111,227.5 1125,235 1111,242.5 1111,239 1088,239"/>
<polygon points="1270,231 1296,231 1296,227.5 1310,235 1296,242.5 1296,239 1270,239"/>
<polygon points="1191,159 1199,159 1199,220 1204,220 1195,231 1186,220 1191,220"/>
<polygon points="1191,247 1199,247 1199,270 1204,270 1195,281 1186,270 1191,270"/>
</g>
<g fill="none" stroke="#4a8fd6" stroke-width="5">
<path d="M1068,121 Q1066,98 1078,89" marker-end="url(#ahB)"/>
<path d="M1115,59 Q1121,46 1136,41" marker-end="url(#ahB)"/>
<path d="M1250,43 Q1270,48 1279,57" marker-end="url(#ahB)"/>
<path d="M1310,98 Q1324,108 1325,120" marker-end="url(#ahB)"/>
</g>
<g fill="#111" font-size="14">
<text x="1153" y="30" textLength="88">Formaldehyde</text>
<text x="1068" y="78" textLength="58">Methanol</text>
<text x="1283" y="80" textLength="52">Formate</text>
<text x="1142" y="98" textLength="126">Methane metabolism</text>
<text x="1053" y="151">CH<tspan font-size="9" dy="3">4</tspan></text>
<text x="1147" y="151" textLength="95">Methanotrophs</text>
<text x="1320" y="153">CO<tspan font-size="9" dy="3">2</tspan></text>
<text x="1163" y="188" textLength="67">Methanol、</text>
<text x="1160" y="205" textLength="68">acetate etc.</text>
<text x="1042" y="238">NO<tspan font-size="9" dy="3">3</tspan><tspan font-size="9" dy="-9">-</tspan><tspan dy="6">-N</tspan></text>
<text x="1135" y="238" textLength="125">Denitrifying bacteria</text>
<text x="1313" y="238">N<tspan font-size="9" dy="3">2</tspan></text>
<text x="1135" y="266" textLength="125">Nitrogen metabolism</text>
</g>
<g fill="#111" font-size="9" text-anchor="middle">
<text transform="translate(1049,104) rotate(-67)">mmoCXYZ、</text>
<text transform="translate(1056,122) rotate(-67)">pmoA</text>
<text transform="translate(1109,30) rotate(-33)">mdh1、mxaF</text>
<text transform="translate(1118,41) rotate(-33)">mdh2、mxaI</text>
<text transform="translate(1273,47) rotate(40)">fdhA</text>
<text transform="translate(1366,115) rotate(63)">fdoG、fdhF、</text>
<text transform="translate(1352,117) rotate(63)">fdwA、fdh、</text>
<text transform="translate(1334,106) rotate(63)">fdsD</text>
</g>

<!-- ===== Nitrogen cycle ===== -->
<g fill="none">
<path d="M1148,302 Q1190,283 1226,296" stroke="#f4a470" stroke-width="7" marker-end="url(#ahO)"/>
<path d="M1079,379 Q1077,346 1098,331" stroke="#f4a470" stroke-width="7" marker-end="url(#ahO)"/>
<path d="M1230,315 L1114,387" stroke="#a6a6a6" stroke-width="8" marker-end="url(#ahS)"/>
<path d="M1175,447 L1237,344" stroke="#8fce72" stroke-width="6" marker-end="url(#ahG)"/>
<path d="M1258,338 L1204,428" stroke="#f4a470" stroke-width="6" marker-end="url(#ahO)"/>
<path d="M1290,338 Q1311,350 1316,366" stroke="#8fce72" stroke-width="7" marker-end="url(#ahG)"/>
<path d="M1318,429 Q1314,456 1297,468" stroke="#8fce72" stroke-width="7" marker-end="url(#ahG)"/>
<path d="M1232,506 Q1200,512 1173,506" stroke="#8fce72" stroke-width="7" marker-end="url(#ahG)"/>
<path d="M1098,466 Q1082,452 1079,440" stroke="#f8d048" stroke-width="7" marker-end="url(#ahY)"/>
</g>
<g fill="#111" font-size="14">
<text x="1073" y="317" textLength="95">Hydroxylamine</text>
<text x="1247" y="317" textLength="39">Nitrite</text>
<text x="1045" y="412" textLength="58">Ammonia</text>
<text x="1283" y="407" textLength="70">Nitric oxide</text>
<text x="1162" y="464" textLength="42">Nitrate</text>
<text x="1100" y="495" textLength="53">Nitrogen</text>
<text x="1225" y="495" textLength="80">Nitrous oxide</text>
</g>
<g fill="#111" font-size="9" text-anchor="middle">
<text x="1192" y="307">hao</text>
<text transform="translate(1100,360) rotate(-74)">amoABC</text>
<text transform="translate(1151,351) rotate(-32)">nirBD、nirA</text>
<text transform="translate(1183,387) rotate(-60)">narGHI、napAB、</text>
<text transform="translate(1192,399) rotate(-60)">narB、nasAB、</text>
<text transform="translate(1239,399) rotate(-58)">NarAB</text>
<text transform="translate(1293,362) rotate(58)">nirK、nirS</text>
<text transform="translate(1293,450) rotate(-60)">norBC</text>
<text x="1196" y="503">nosZ</text>
<text transform="translate(1104,450) rotate(65)">nifDKH、anfG</text>
</g>
</svg>
</body></html>
